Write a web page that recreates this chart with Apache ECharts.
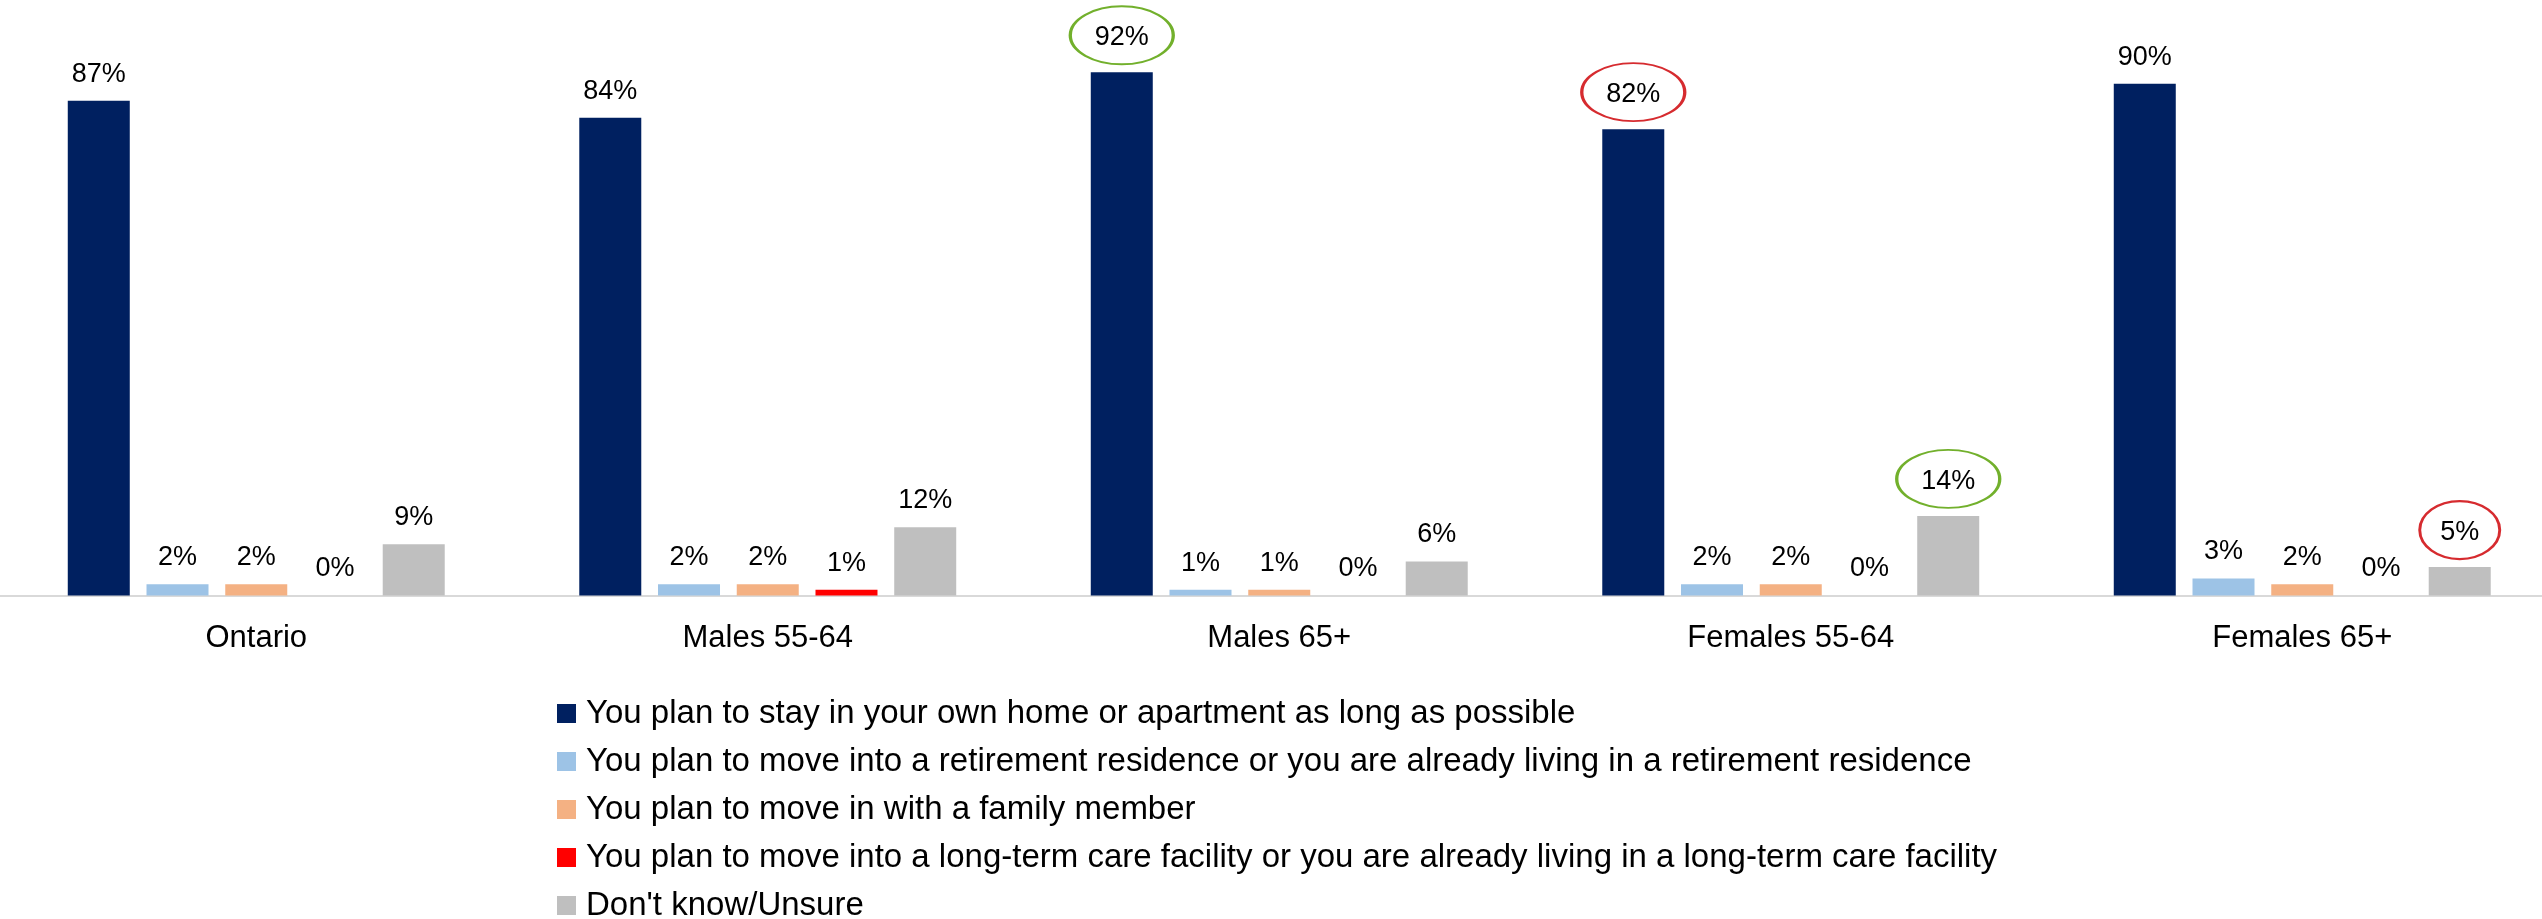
<!DOCTYPE html>
<html>
<head>
<meta charset="utf-8">
<script src="https://cdn.jsdelivr.net/npm/echarts@6/dist/echarts.min.js"></script>
<style>
  html, body { margin: 0; padding: 0; background: #fff; }
  #chart { width: 2542px; height: 919px; }
</style>
</head>
<body>
<div id="chart"></div>
<script>
var categories = ['Ontario', 'Males 55-64', 'Males 65+', 'Females 55-64', 'Females 65+'];

var seriesNames = [
  'You plan to stay in your own home or apartment as long as possible',
  'You plan to move into a retirement residence or you are already living in a retirement residence',
  'You plan to move in with a family member',
  'You plan to move into a long-term care facility or you are already living in a long-term care facility',
  "Don't know/Unsure"
];

var stayHome     = [87, 84, 92, 82, 90];
var retirement   = [2, 2, 1, 2, 3];
var familyMember = [2, 2, 1, 2, 2];
var longTermCare = [0, 1, 0, 0, 0];
var unsure       = [9, 12, 6, 14, 5];

// circled labels: [series index, category index, colour]
var circled = [
  [0, 2, 'green'],
  [0, 3, 'red'],
  [4, 3, 'green'],
  [4, 4, 'red']
];

var colors = ['#002060', '#9DC3E6', '#F4B183', '#FF0000', '#BFBFBF'];
var ringColors = { green: '#72B02C', red: '#D62B2F' };
var fontFamily = '"Liberation Sans", Arial, Helvetica, sans-serif';

function buildSeries(idx, values) {
  var marks = [];
  var data = values.map(function (v, c) {
    var hit = circled.filter(function (h) { return h[0] === idx && h[1] === c; })[0];
    if (!hit) return v;
    var chars = (v + '%').length;
    marks.push({
      coord: [c, v],
      symbolSize: [34 + chars * 23, 58],
      itemStyle: { color: 'transparent', borderColor: ringColors[hit[2]], borderWidth: 2.5 }
    });
    return { value: v, label: { distance: 21 } };
  });
  return {
    name: seriesNames[idx],
    type: 'bar',
    barWidth: 62,
    barGap: '27%',
    data: data,
    itemStyle: { color: colors[idx] },
    label: {
      show: true,
      position: 'top',
      distance: 13,
      formatter: '{c}%',
      color: '#000',
      fontSize: 27,
      fontFamily: fontFamily
    },
    markPoint: marks.length ? {
      symbol: 'path://M0,50A50,50,0,1,1,100,50A50,50,0,1,1,0,50Z',
      symbolOffset: [0, -37],
      label: { show: false },
      silent: true,
      data: marks
    } : undefined
  };
}

var chart = echarts.init(document.getElementById('chart'));
chart.setOption({
  animation: false,
  color: colors,
  grid: {
    left: 0.5,
    top: 26.8,
    width: 2557.5,
    height: 568.7,
    containLabel: false,
    outerBoundsMode: 'none'
  },
  legend: {
    orient: 'vertical',
    left: 557,
    top: 697,
    height: 240,
    padding: 0,
    icon: 'rect',
    itemWidth: 19,
    itemHeight: 19,
    itemGap: 15,
    selectedMode: false,
    data: seriesNames,
    textStyle: {
      fontSize: 33,
      lineHeight: 33,
      color: '#000',
      fontFamily: fontFamily,
      padding: [0, 0, 0, 5]
    }
  },
  xAxis: {
    type: 'category',
    data: categories,
    axisTick: { show: false },
    axisLine: { lineStyle: { color: '#D9D9D9', width: 2 } },
    axisLabel: {
      margin: 27,
      fontSize: 31,
      color: '#000',
      fontFamily: fontFamily
    }
  },
  yAxis: {
    type: 'value',
    min: 0,
    max: 100,
    show: false,
    splitLine: { show: false }
  },
  series: [
    buildSeries(0, stayHome),
    buildSeries(1, retirement),
    buildSeries(2, familyMember),
    buildSeries(3, longTermCare),
    buildSeries(4, unsure)
  ]
});
</script>
</body>
</html>
